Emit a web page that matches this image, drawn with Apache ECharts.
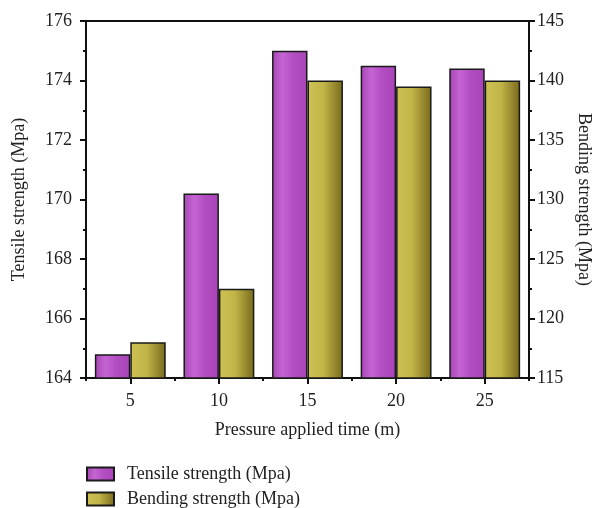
<!DOCTYPE html>
<html><head><meta charset="utf-8">
<script src="https://cdn.jsdelivr.net/npm/echarts@6/dist/echarts.min.js"></script>
<style>html,body{margin:0;padding:0;background:#fff}#c{width:592px;height:508px}</style>
</head><body><div id="c"></div>
<script>
const categories = ['5', '10', '15', '20', '25'];
const tensile = [164.8, 170.2, 175.0, 174.5, 174.4];
const bending = [118.0, 122.5, 140.0, 139.5, 140.0];
const seriesNames = ['Tensile strength (Mpa)', 'Bending strength (Mpa)'];
const xName = 'Pressure applied time (m)';

const FONT = 'Liberation Serif';
const FS = 18;
const chart = echarts.init(document.getElementById('c'), null, {renderer: 'canvas'});
const purple = new echarts.graphic.LinearGradient(0, 0, 1, 0, [
  {offset: 0, color: '#a645b5'}, {offset: 0.3, color: '#c465d2'}, {offset: 0.6, color: '#b24dc2'}, {offset: 1, color: '#a843b8'}]);
const gold = new echarts.graphic.LinearGradient(0, 0, 1, 0, [
  {offset: 0, color: '#cfc255'}, {offset: 0.45, color: '#c2b548'}, {offset: 1, color: '#77691b'}]);
const axisLine = {show: true, lineStyle: {color: '#111', width: 2}};
const labelStyle = {color: '#222', fontFamily: FONT, fontSize: FS};
const nameStyle = {color: '#222', fontFamily: FONT, fontSize: FS};
chart.setOption({
  animation: false,
  textStyle: {fontFamily: FONT},
  grid: {left: 86, right: 63, top: 21, bottom: 130, show: true, borderColor: '#111', borderWidth: 2,
         containLabel: false, outerBoundsMode: 'none'},
  legend: {
    orient: 'vertical', left: 86, top: 465, padding: 0, itemWidth: 27, itemHeight: 13, itemGap: 7,
    icon: 'rect',
    textStyle: {color: '#222', fontFamily: FONT, fontSize: FS, padding: [0, 0, 0, 8]},
    data: seriesNames
  },
  xAxis: [{
    type: 'category', data: categories, position: 'bottom',
    axisLine: axisLine,
    axisTick: {show: true, alignWithLabel: true, length: 6, lineStyle: {color: '#111', width: 2}},
    axisLabel: Object.assign({margin: 14}, labelStyle),
    name: xName, nameLocation: 'middle', nameGap: 43,
    nameTextStyle: nameStyle
  }, {
    type: 'category', data: categories, position: 'bottom',
    axisLine: {show: false},
    axisTick: {show: true, length: 3, lineStyle: {color: '#111', width: 2}},
    axisLabel: {show: false}
  }],
  yAxis: [{
    type: 'value', min: 164, max: 176, interval: 2, position: 'left',
    axisLine: axisLine,
    axisTick: {show: true, length: 6, lineStyle: {color: '#111', width: 2}},
    minorTick: {show: true, splitNumber: 2, length: 3, lineStyle: {color: '#111', width: 2}},
    splitLine: {show: false},
    axisLabel: Object.assign({margin: 14}, labelStyle),
    name: 'Tensile strength (Mpa)', nameLocation: 'middle', nameGap: 58,
    nameTextStyle: nameStyle
  }, {
    type: 'value', min: 115, max: 145, interval: 5, position: 'right',
    axisLine: axisLine,
    axisTick: {show: true, length: 6, lineStyle: {color: '#111', width: 2}},
    minorTick: {show: true, splitNumber: 2, length: 3, lineStyle: {color: '#111', width: 2}},
    splitLine: {show: false},
    axisLabel: Object.assign({margin: 8}, labelStyle),
    name: 'Bending strength (Mpa)', nameLocation: 'middle', nameGap: 44, nameRotate: -90,
    nameTextStyle: nameStyle
  }],
  series: [{
    name: seriesNames[0], type: 'bar', data: tensile, xAxisIndex: 0, yAxisIndex: 0,
    barGap: '0%', barCategoryGap: '20%',
    itemStyle: {color: purple, borderColor: '#1a1a1a', borderWidth: 1.5}
  }, {
    name: seriesNames[1], type: 'bar', data: bending, xAxisIndex: 0, yAxisIndex: 1,
    barGap: '0%', barCategoryGap: '20%',
    itemStyle: {color: gold, borderColor: '#1a1a1a', borderWidth: 1.5}
  }]
});
</script></body></html>
